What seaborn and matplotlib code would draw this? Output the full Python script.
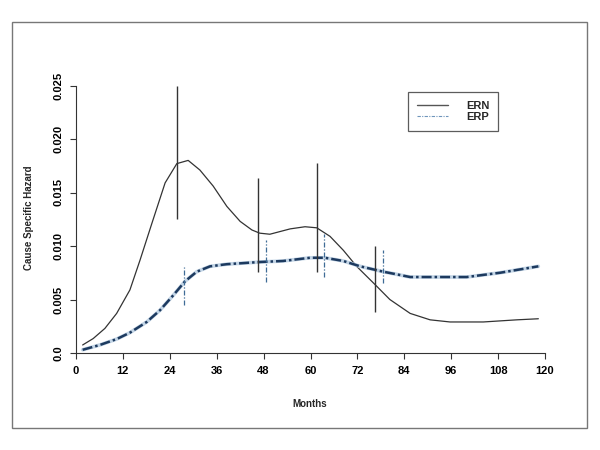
import numpy as np
import pandas as pd
import seaborn as sns
import matplotlib.pyplot as plt
from matplotlib.patches import Rectangle
from matplotlib.lines import Line2D

# values
ern_month = [1.7, 4.4, 7.4, 10.4, 13.8, 16.4, 19.4, 22.8, 25.8, 28.7, 31.7, 35.1, 38.6, 42, 45, 47,
             49.6, 54.8, 58.6, 61.6, 65, 68.4, 71.8, 76.5, 80.3, 85.5, 90.6, 95.7, 104.2, 112.8, 118.3]
ern_hazard = [0.00075, 0.00135, 0.0023, 0.0037, 0.0059, 0.0087, 0.0121, 0.0159, 0.0177, 0.0180, 0.0171,
              0.0156, 0.0137, 0.0123, 0.0115, 0.0112, 0.0111, 0.0116, 0.0118, 0.0117, 0.0109, 0.0096,
              0.0081, 0.0064, 0.0050, 0.0037, 0.0031, 0.0029, 0.0029, 0.0031, 0.0032]

erp_month = [1.7, 6.1, 10.4, 13.8, 18.1, 21.5, 24.9, 27.9, 30.9, 34.3, 38.6, 46.9, 53, 59.9, 63.7,
             68.4, 72.7, 78.6, 85.5, 92.3, 100, 108.5, 118.3]
erp_hazard = [0.0003, 0.00075, 0.0013, 0.0019, 0.0029, 0.0040, 0.0054, 0.0067, 0.0076, 0.0081, 0.0083,
              0.0085, 0.0086, 0.0089, 0.0089, 0.0086, 0.0081, 0.0076, 0.0071, 0.0071, 0.0071, 0.0075, 0.0081]

# confidence bars
ern_ci_month = [25.8, 46.6, 61.6, 76.6]
ern_ci_low = [0.0125, 0.0076, 0.0076, 0.0038]
ern_ci_high = [0.0250, 0.01635, 0.0178, 0.0100]

erp_ci_month = [27.7, 48.6, 63.5, 78.6]
erp_ci_low = [0.0045, 0.0066, 0.0071, 0.0065]
erp_ci_high = [0.0080, 0.0106, 0.0111, 0.0096]

x_ticks = list(range(0, 121, 12))
y_ticks = [0.0, 0.005, 0.010, 0.015, 0.020, 0.025]
y_labels = ["0.0", "0.005", "0.010", "0.015", "0.020", "0.025"]

sns.set_style("ticks")
plt.rcParams['font.family'] = ['Liberation Sans', 'DejaVu Sans']
plt.rcParams['font.weight'] = 'bold'

fig = plt.figure(figsize=(6, 4.5), dpi=100)
ax = fig.add_axes([76 / 600, 1 - 353 / 450, (545 - 76) / 600, (353 - 85.5) / 450])

df_ern = pd.DataFrame({'month': ern_month, 'hazard': ern_hazard})
df_erp = pd.DataFrame({'month': erp_month, 'hazard': erp_hazard})

sns.lineplot(data=df_ern, x='month', y='hazard', ax=ax, color='#333333', lw=0.9, clip_on=False)
# ERP: light blue band under a dark dash-dot line
sns.lineplot(data=df_erp, x='month', y='hazard', ax=ax, color='#c3d5e6', lw=2.6, clip_on=False)
sns.lineplot(data=df_erp, x='month', y='hazard', ax=ax, color='#1d3a5f', lw=1.8,
             linestyle=(0, (4, 1.2, 1, 1.2)), clip_on=False)

ax.vlines(ern_ci_month, ern_ci_low, ern_ci_high, color='#333333', lw=1.0, clip_on=False)
ax.vlines(erp_ci_month, erp_ci_low, erp_ci_high, color='#3e6b96', lw=0.9,
          linestyles=[(0, (4, 1.5, 1, 1.5))], clip_on=False)

ax.set_xlim(0, 120)
ax.set_ylim(0, 0.025)
ax.set_xticks(x_ticks)
ax.set_xticklabels([str(t) for t in x_ticks], fontsize=8, fontweight='bold')
ax.set_yticks(y_ticks)
ax.set_yticklabels(y_labels, fontsize=8, fontweight='bold', rotation=90, va='center')
ax.tick_params(direction='out', length=4, width=0.8, colors='#333333', labelcolor='black', pad=5)
sns.despine(ax=ax)
for s in ['left', 'bottom']:
    ax.spines[s].set_color('#333333')
    ax.spines[s].set_linewidth(0.8)

ax.set_xlabel('')
ax.set_ylabel('')
fig.text(310 / 600, 1 - 404 / 450, 'Months', ha='center', va='center', fontsize=7, fontweight='bold')
fig.text(29 / 600, 1 - 218 / 450, 'Cause Specific Hazard', ha='center', va='center',
         rotation=90, fontsize=7, fontweight='bold')

handles = [Line2D([], [], color='#555555', lw=1.0),
           Line2D([], [], color='#6f95bb', lw=0.8, linestyle=(0, (3, 1.2, 1, 1.2)))]
leg = ax.legend(handles, ['ERN', 'ERP'], loc='upper left',
                bbox_to_anchor=(408 / 600, 1 - 92 / 450), bbox_transform=fig.transFigure,
                frameon=True, fancybox=False, fontsize=8, handlelength=2.8,
                borderpad=0.8, labelspacing=0.1, handletextpad=1.6, borderaxespad=0)
leg.get_frame().set_edgecolor('#333333')
leg.get_frame().set_linewidth(0.9)
for t in leg.get_texts():
    t.set_fontweight('bold')

fig.patches.append(Rectangle((12 / 600, 1 - 428 / 450), 575 / 600, 406 / 450,
                             transform=fig.transFigure, fill=False, edgecolor='#777777', lw=1.0))

fig.savefig('out.png', dpi=100)
